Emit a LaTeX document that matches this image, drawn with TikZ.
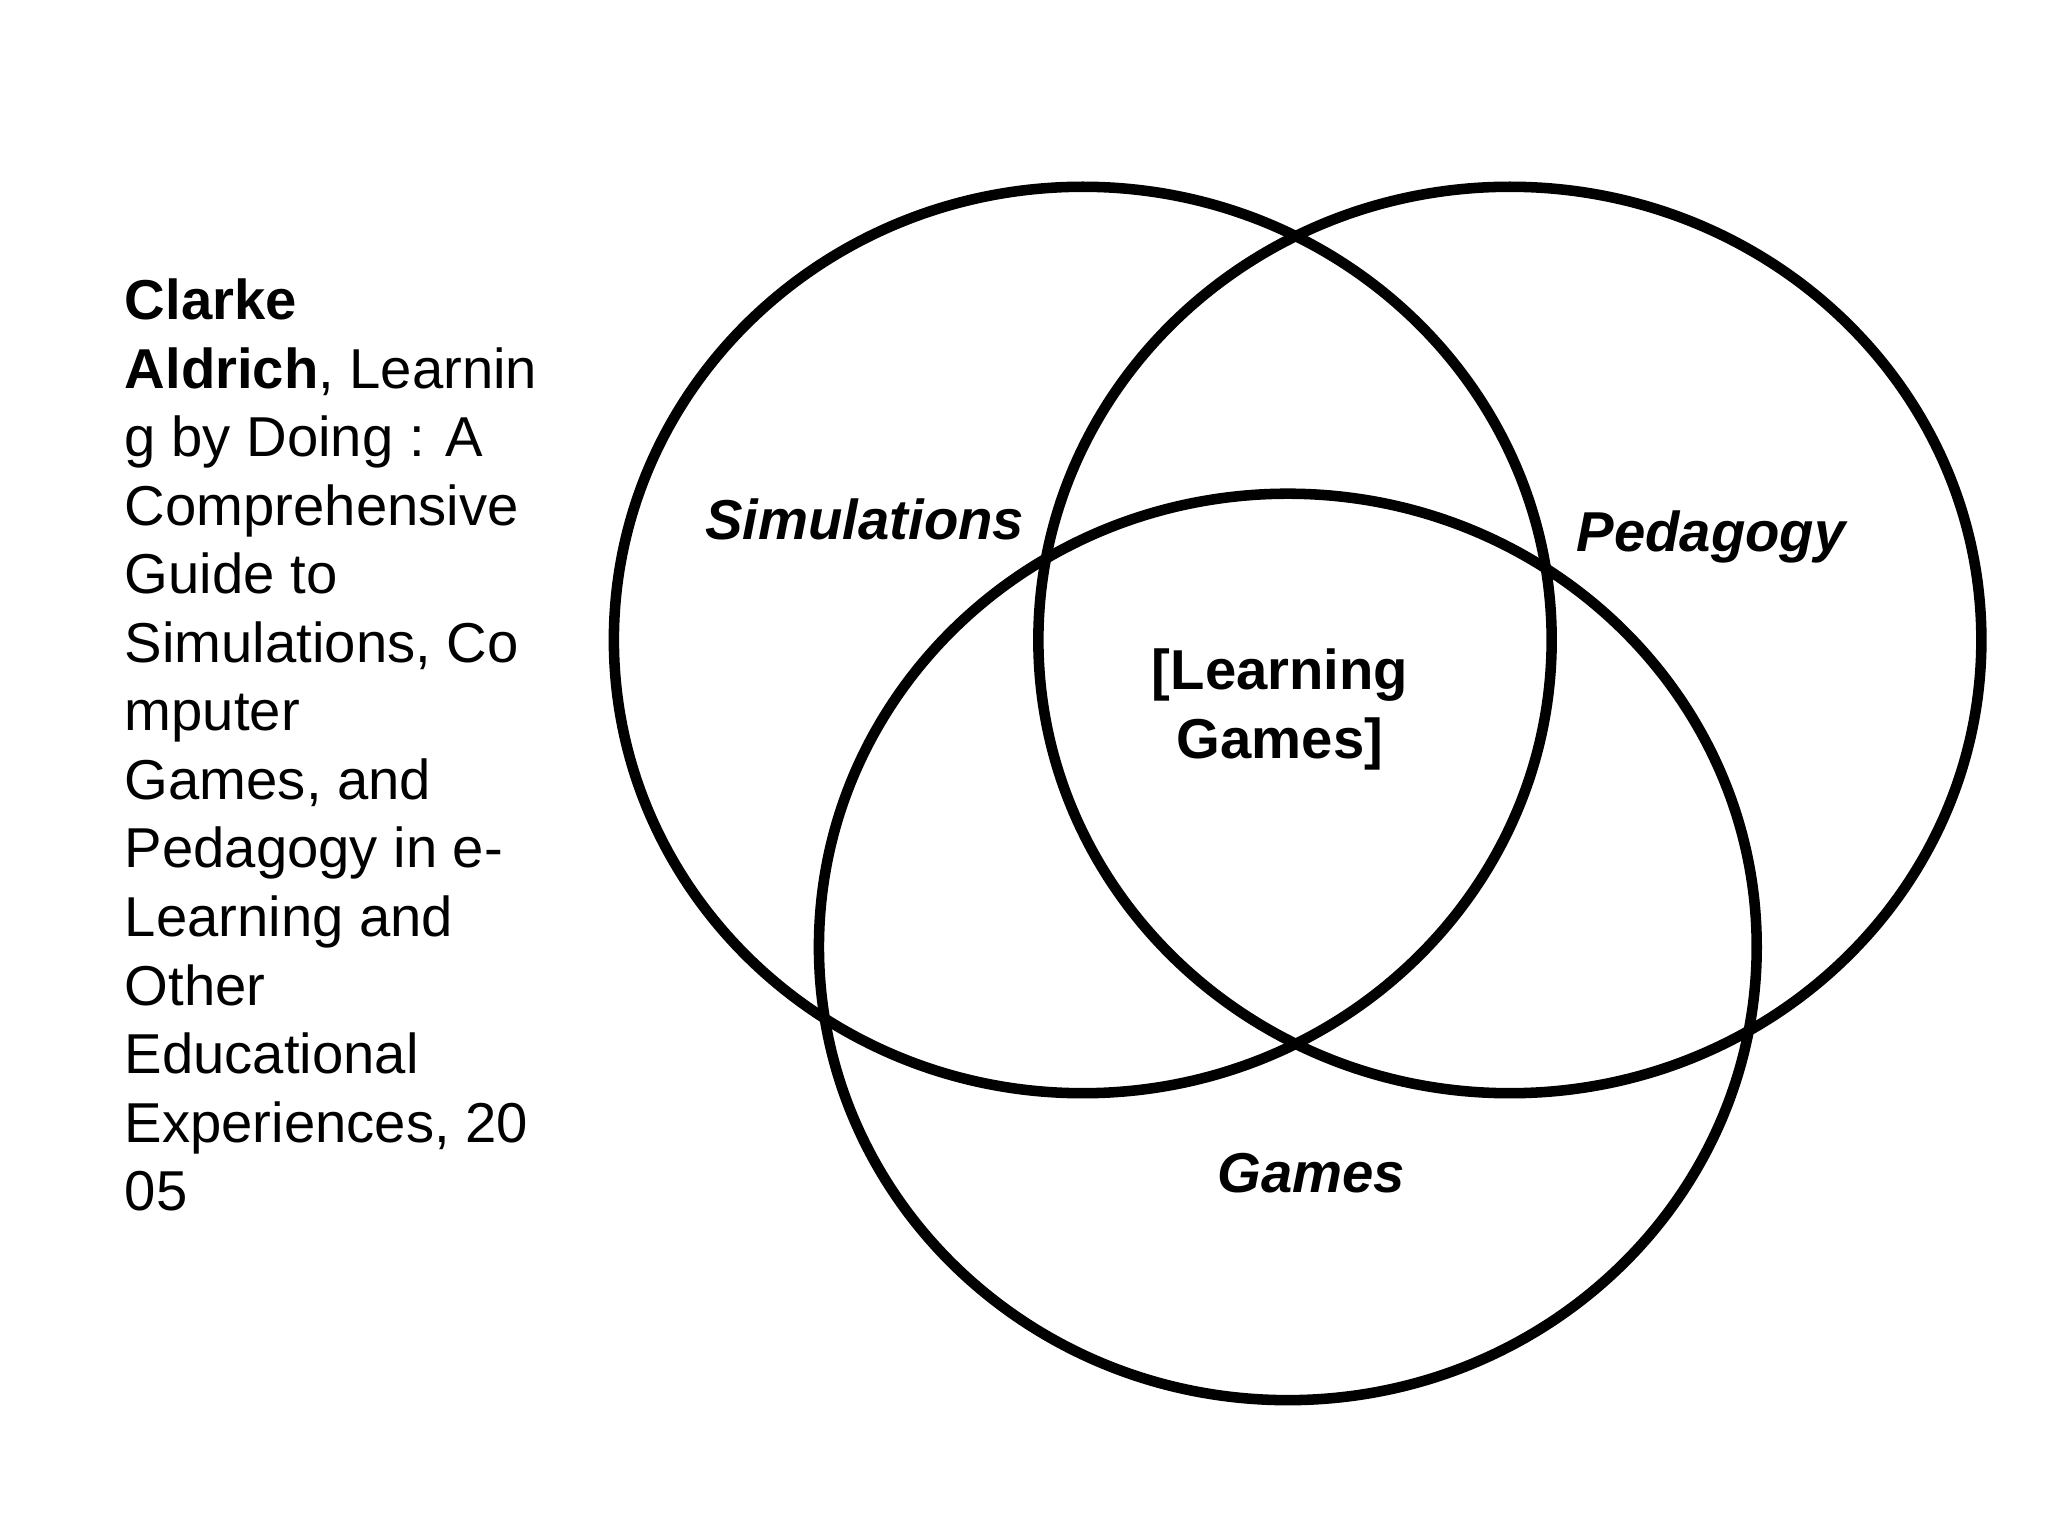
\documentclass[tikz,border=0pt]{standalone}
\usepackage{fontspec}
\setmainfont{Liberation Sans}
\begin{document}
\begin{tikzpicture}[x=0.013061cm,y=-0.013061cm,
  venn/.style={line width=3pt},
  lbl/.style={font=\fontsize{16}{19.5}\selectfont\bfseries\itshape},
  txt/.style={font=\fontsize{16}{19.5}\selectfont, align=left, inner sep=0pt}]
\useasboundingbox (0,0) rectangle (1568,1176);
\draw[venn] (829,490) ellipse [x radius=359, y radius=347];
\draw[venn] (1156,490) ellipse [x radius=361, y radius=347];
\draw[venn] (986,725) ellipse [x radius=359, y radius=347];
\node[lbl] (sim) at (662,398) {Simulations};
\node[lbl] (ped) at (1310,411) {Pedagogy};
\node[lbl] (gam) at (1004,898) {Games};
\node[font=\fontsize{16}{19.5}\selectfont\bfseries, align=center] (lg) at (980,543) {[Learning\\Games]};
\node[txt, anchor=north west] (ref) at (95,213) {\textbf{Clarke}\\\textbf{Aldrich}, Learnin\\g by Doing : A\\Comprehensive\\Guide to\\Simulations, Co\\mputer\\Games, and\\Pedagogy in e-\\Learning and\\Other\\Educational\\Experiences, 20\\05};
\end{tikzpicture}
\end{document}
